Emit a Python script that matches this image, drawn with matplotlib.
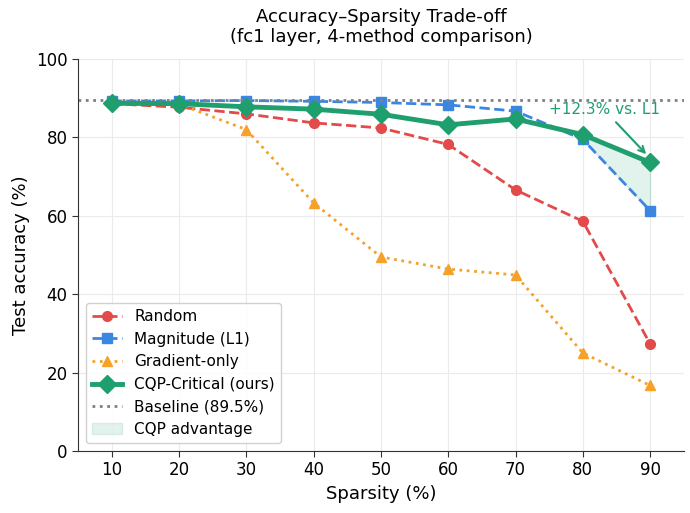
import matplotlib
matplotlib.use("Agg")
import matplotlib.pyplot as plt
import numpy as np

sparsity = [10, 20, 30, 40, 50, 60, 70, 80, 90]
random_acc = [88.6, 87.7, 86.0, 83.7, 82.4, 78.2, 66.6, 58.6, 27.3]
magnitude_acc = [89.3, 89.3, 89.4, 89.2, 88.9, 88.3, 86.7, 79.5, 61.3]
gradient_acc = [89.0, 88.5, 82.0, 63.3, 49.5, 46.4, 44.9, 25.0, 16.7]
cqp_acc = [88.7, 88.6, 87.8, 87.2, 85.9, 83.2, 84.7, 80.7, 73.6]
baseline = 89.5

RED = '#e34a4a'
BLUE = '#3b86e0'
ORANGE = '#f5a12a'
GREEN = '#1f9e6e'

fig, ax = plt.subplots(figsize=(6.9, 5.13), dpi=100)
fig.subplots_adjust(left=0.113, right=0.991, top=0.885, bottom=0.121)

ax.plot(sparsity, random_acc, '--o', color=RED, lw=2, ms=7, label='Random')
ax.plot(sparsity, magnitude_acc, '--s', color=BLUE, lw=2, ms=7, label='Magnitude (L1)')
ax.plot(sparsity, gradient_acc, ':^', color=ORANGE, lw=2, ms=7, label='Gradient-only')
ax.plot(sparsity, cqp_acc, '-D', color=GREEN, lw=3.5, ms=9, label='CQP-Critical (ours)', zorder=5)
ax.axhline(baseline, color='gray', ls=':', lw=2, label=f'Baseline ({baseline}%)')
s = np.array(sparsity)
c = np.array(cqp_acc)
m = np.array(magnitude_acc)
ax.fill_between(s, m, c, where=(s >= 80), color=GREEN, alpha=0.13, label='CQP advantage')

ax.annotate('+12.3% vs. L1', xy=(89.7, 75.2), xytext=(83.2, 87.0),
            color=GREEN, fontsize=11, ha='center', va='center',
            arrowprops=dict(arrowstyle='->', color=GREEN, lw=1.5))

ax.set_xlim(5, 95)
ax.set_ylim(0, 100)
ax.set_xticks(sparsity)
ax.set_yticks([0, 20, 40, 60, 80, 100])
ax.tick_params(labelsize=12, length=4, color='#333333')
for side in ('top', 'right'):
    ax.spines[side].set_visible(False)
for side in ('left', 'bottom'):
    ax.spines[side].set_color('#333333')
ax.grid(True, color='#ebebeb', lw=0.8)
ax.set_axisbelow(True)
ax.set_xlabel('Sparsity (%)', fontsize=13)
ax.set_ylabel('Test accuracy (%)', fontsize=13)
ax.set_title('Accuracy–Sparsity Trade-off\n(fc1 layer, 4-method comparison)', fontsize=13, pad=12)
ax.legend(loc='lower left', fontsize=11, framealpha=0.9)

fig.savefig('out.png', dpi=100)
